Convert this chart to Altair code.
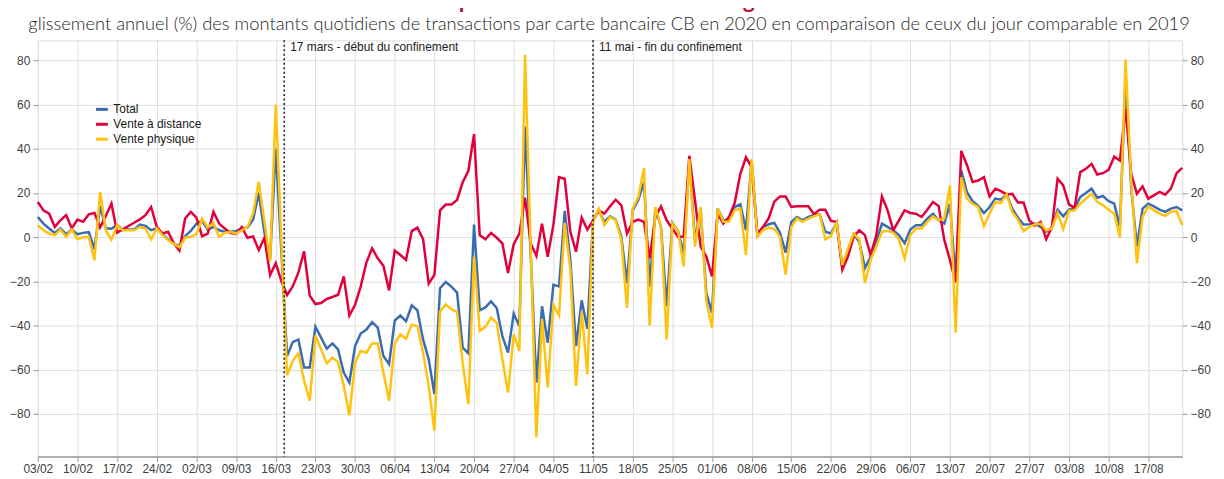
import altair as alt
import pandas as pd

# ---- data (glissement annuel, %), one value per day from 03/02/2020 ----
start_date = "2020-02-03"

total = [
    9.1, 6.1, 3.9, 1.9, 3.9, 1.3, 3.4, 1.3, 1.9, 2.2,
    -5.5, 14.0, 4.0, 3.8, 5.5, 3.4, 3.4, 3.4, 5.7, 5.1,
    3.1, 3.9, 1.2, -1.0, -3.1, -4.0, 0.4, 2.8, 6.0, 7.5,
    3.4, 4.6, 3.1, 2.4, 2.4, 2.8, 3.9, 4.3, 7.9, 20.0,
    2.0, -10.0, 40.0, -7.0, -53.8, -47.5, -46.3, -59.0, -59.0, -40.6,
    -45.5, -50.5, -48.1, -50.8, -61.3, -65.8, -49.3, -43.6, -41.8, -38.5,
    -41.0, -53.8, -57.5, -37.8, -35.5, -38.1, -30.9, -33.1, -46.3, -55.3,
    -71.0, -23.1, -20.3, -22.4, -25.1, -50.0, -52.6, 5.7, -33.1, -31.8,
    -29.1, -32.1, -44.8, -52.3, -34.6, -40.3, 50.0, -8.0, -65.8, -31.3,
    -47.8, -21.6, -22.3, 11.8, -10.3, -49.3, -28.6, -41.5, 7.6, 12.1,
    6.9, 9.4, 7.9, 0.1, -20.8, 12.1, 16.9, 24.9, -22.3, 12.9,
    4.6, -31.3, 6.4, 2.8, -7.3, 34.6, -1.3, 12.1, -25.3, -34.3,
    12.9, 7.6, 7.6, 13.6, 14.8, 3.1, 34.6, 1.6, 4.6, 5.8,
    6.4, 2.0, -7.0, 6.9, 9.1, 7.6, 9.1, 9.9, 10.3, 2.4,
    1.6, 6.4, -13.3, -5.8, 1.3, -2.1, -14.1, -8.8, -2.1, 6.1,
    4.6, 3.1, 0.9, -2.8, 3.4, 5.4, 5.4, 8.4, 10.6, 7.6,
    6.1, 15.1, -19.3, 30.1, 20.3, 16.2, 14.1, 10.9, 13.6, 17.4,
    16.9, 19.3, 12.9, 8.8, 5.7, 5.8, 6.1, 4.6, 2.4, 4.3,
    12.4, 9.4, 12.4, 12.9, 18.1, 19.9, 21.9, 17.8, 18.6, 16.3,
    15.1, 4.6, 72.0, 22.0, -4.3, 12.9, 15.1, 13.9, 12.4, 11.4,
    12.9, 13.6, 12.1,
]

distance = [
    15.9, 12.1, 10.6, 4.6, 7.6, 9.9, 3.9, 7.9, 6.9, 10.3,
    10.9, 4.4, 9.5, 15.2, 2.0, 3.5, 5.0, 6.5, 8.0, 9.9,
    13.6, 4.6, 1.6, 2.4, -2.8, -6.1, 8.4, 11.4, 8.8, 0.4,
    1.6, 11.4, 6.1, 3.9, 1.9, 1.3, 4.6, -0.3, 0.3, -5.8,
    -0.3, -17.2, -11.8, -20.0, -26.2, -22.3, -16.0, -6.4, -26.5, -30.3,
    -29.8, -28.0, -27.1, -26.1, -17.8, -35.5, -30.6, -22.3, -11.5, -5.1,
    -9.6, -13.0, -24.1, -6.1, -8.1, -10.3, 2.7, 4.3, -0.9, -21.1,
    -17.1, 12.1, 14.7, 14.7, 16.8, 24.8, 30.0, 46.6, 0.9, -1.0,
    1.9, -0.3, -2.8, -16.3, -3.2, 1.6, 17.8, -2.9, -8.5, 6.1,
    -8.9, 5.4, 27.1, 26.4, 2.4, -6.6, 8.8, 3.4, 7.6, 12.1,
    10.6, 13.9, 16.9, 14.4, 1.6, 6.9, 7.9, 6.9, -9.6, 9.1,
    13.9, 7.6, 3.9, 0.1, 0.1, 36.8, 16.6, -4.3, -8.8, -17.8,
    10.6, 6.1, 9.1, 15.4, 28.6, 36.1, 31.6, 0.9, 4.6, 8.4,
    16.0, 18.4, 18.4, 13.6, 13.9, 13.9, 13.9, 10.3, 12.4, 12.4,
    7.3, 6.9, -14.8, -8.8, 0.1, 3.1, 0.9, -8.1, 0.9, 18.4,
    12.1, 3.1, 7.6, 12.1, 10.9, 10.6, 9.1, 12.4, 15.9, 14.1,
    -1.3, -10.3, -20.5, 39.0, 32.6, 24.9, 25.6, 27.1, 18.4, 21.9,
    20.8, 19.3, 19.6, 15.6, 15.6, 7.6, 5.2, 6.9, -0.9, 4.6,
    26.4, 23.4, 14.8, 13.2, 29.4, 30.9, 33.1, 28.3, 28.9, 30.4,
    36.4, 34.6, 58.0, 28.6, 19.6, 22.9, 17.4, 18.9, 20.4, 19.2,
    21.9, 28.9, 31.3,
]

physique = [
    5.4, 3.1, 1.6, 0.9, 3.4, 0.1, 3.4, -1.0, -0.1, 0.1,
    -10.5, 20.4, 3.1, -1.2, 5.4, 3.1, 3.1, 3.1, 4.6, 3.9,
    -1.0, 3.9, 0.9, -1.3, -3.1, -4.6, -0.3, 0.1, 1.3, 8.4,
    4.3, 6.4, 0.1, 1.9, 2.4, 1.6, 3.1, 4.5, 10.6, 25.0,
    7.0, -11.0, 60.0, -2.0, -62.5, -56.0, -52.6, -65.0, -74.0, -44.5,
    -50.8, -57.1, -54.5, -56.5, -67.3, -80.7, -56.8, -51.5, -52.3, -48.1,
    -48.1, -61.3, -74.0, -48.1, -44.0, -46.0, -39.6, -40.3, -52.3, -67.3,
    -87.5, -33.6, -30.5, -32.6, -33.8, -57.0, -75.5, -8.8, -42.5, -40.6,
    -36.5, -38.8, -55.3, -70.3, -44.0, -51.5, 82.5, -5.0, -90.5, -37.0,
    -68.0, -30.6, -35.5, 6.4, -14.8, -67.3, -33.6, -62.0, 6.9, 12.9,
    5.4, 9.1, 7.6, -1.3, -32.0, 12.9, 18.1, 31.3, -40.0, 13.6,
    4.6, -46.3, 6.1, 3.1, -13.3, 35.3, -4.3, 13.6, -29.1, -41.0,
    12.9, 6.9, 6.9, 12.1, 12.9, -8.1, 35.3, 0.1, 3.1, 4.3,
    3.6, 0.1, -17.0, 4.6, 8.4, 6.9, 8.4, 9.4, 10.3, -1.0,
    0.4, 6.4, -12.6, -5.5, 1.6, -1.0, -20.8, -10.3, -4.3, 2.4,
    2.8, 1.9, -1.0, -9.6, 0.9, 3.9, 3.9, 6.9, 9.4, 7.6,
    8.4, 23.4, -43.3, 27.0, 17.4, 15.1, 13.6, 4.9, 10.6, 15.9,
    15.4, 19.3, 11.4, 7.9, 2.7, 4.6, 5.7, 6.1, 3.1, 3.9,
    10.9, 3.6, 11.8, 12.1, 15.1, 17.4, 19.6, 15.9, 14.4, 12.4,
    10.6, -0.2, 80.3, 25.0, -11.8, 9.1, 13.9, 12.1, 10.6, 9.6,
    11.4, 11.8, 5.4,
]

series = ["Total", "Vente à distance", "Vente physique"]
colors = ["#3a6cb3", "#e2003c", "#ffc20e"]

event_dates = ["2020-03-17T12:00:00", "2020-05-11T00:00:00"]
event_labels = ["17 mars - début du confinement", "11 mai - fin du confinement"]

y_ticks = [-80, -60, -40, -20, 0, 20, 40, 60, 80]

title_text = "1 - Transactions par carte bancaire CB en magasin et à distance"
subtitle_text = ("glissement annuel (%) des montants quotidiens de transactions par carte "
                 "bancaire CB en 2020 en comparaison de ceux du jour comparable en 2019")

# ---- build tables ----
dates = pd.date_range(start_date, periods=len(total), freq="D")
wide = pd.DataFrame({"date": dates, series[0]: total, series[1]: distance, series[2]: physique})
long_df = wide.melt("date", var_name="serie", value_name="val")
events = pd.DataFrame({"d": event_dates, "label": event_labels})
titles = pd.DataFrame({"t": [title_text]})
subtitles = pd.DataFrame({"t": [subtitle_text]})
mondays = pd.date_range(start_date, "2020-08-17", freq="7D")
x_values = [alt.DateTime(year=int(m.year), month=int(m.month), date=int(m.day)) for m in mondays]

W, H = 1152, 419
FONT = "Liberation Sans"
GRID = "#dedede"
AXC = "#9b9b9b"

x_enc = alt.X(
    "date:T",
    scale=alt.Scale(domain=[alt.DateTime(year=2020, month=2, date=3),
                            alt.DateTime(year=2020, month=8, date=23)], nice=False),
    axis=alt.Axis(values=x_values, format="%d/%m", title=None, grid=True, gridColor=GRID,
                  gridWidth=1, domainColor=AXC, domainWidth=1.5, tickColor=AXC, tickSize=5,
                  labelFont=FONT, labelFontSize=12, labelColor="#404040", labelPadding=2,
                  labelOverlap=False, labelFlush=False),
)

y_scale = alt.Scale(domain=[-99.3, 89.0], nice=False, zero=False)

left_axis = alt.Axis(values=y_ticks, title=None, grid=True, gridColor=GRID, gridWidth=1,
                     domain=False, tickColor=AXC, tickSize=5, labelFont=FONT, labelFontSize=12,
                     labelColor="#404040", labelPadding=3, orient="left")
right_axis = alt.Axis(values=y_ticks, title=None, grid=False, domain=False, tickColor=AXC,
                      tickSize=5, labelFont=FONT, labelFontSize=12, labelColor="#404040",
                      labelPadding=3, orient="right")

color_enc = alt.Color(
    "serie:N",
    scale=alt.Scale(domain=series, range=colors),
    legend=alt.Legend(orient="none", legendX=57, legendY=62, title=None, symbolType="stroke",
                      symbolStrokeWidth=3, symbolSize=144, labelFont=FONT, labelFontSize=12,
                      labelColor="#1a1a1a", rowPadding=1, labelOffset=4, padding=0),
)


def line_layer(name, axis):
    return (
        alt.Chart(long_df)
        .transform_filter(alt.datum.serie == name)
        .mark_line(strokeWidth=2.5, interpolate="linear")
        .encode(x=x_enc, y=alt.Y("val:Q", scale=y_scale, axis=axis), color=color_enc)
    )


lines = [
    line_layer(series[0], left_axis),
    line_layer(series[1], None),
    line_layer(series[2], right_axis),
]

rules = alt.Chart(events).mark_rule(color="#222222", strokeWidth=1.6, strokeDash=[2, 2.5]).encode(
    x=alt.X("d:T"), y=alt.value(0), y2=alt.value(H)
)

labels = alt.Chart(events).mark_text(
    align="left", baseline="middle", dx=6, font=FONT, fontSize=12, color="#222222"
).encode(x=alt.X("d:T"), y=alt.value(7), text="label:N")

# red main title: mostly above the visible window, as in the reference
main_title = alt.Chart(titles).mark_text(
    align="center", baseline="alphabetic", font="Lato", fontSize=23, fontWeight="bold",
    color="#b5123e"
).encode(x=alt.value(W / 2 + 1), y=alt.value(-33), text="t:N")

sub_title = alt.Chart(subtitles).mark_text(
    align="center", baseline="alphabetic", font="Lato", fontSize=18.4, fontWeight=300,
    color="#262626"
).encode(x=alt.value(W / 2 - 1), y=alt.value(-10), text="t:N")

chart = (
    alt.layer(*lines, rules, labels, main_title, sub_title)
    .resolve_scale(y="independent")
    .properties(
        width=W,
        height=H,
        autosize=alt.AutoSizeParams(type="none"),
        padding={"left": 30, "top": 31, "right": 34, "bottom": 21},
    )
    .configure_view(strokeWidth=0)
    .configure(background="white")
)

chart.save("out.html", embed_options={"renderer": "svg", "actions": False})
